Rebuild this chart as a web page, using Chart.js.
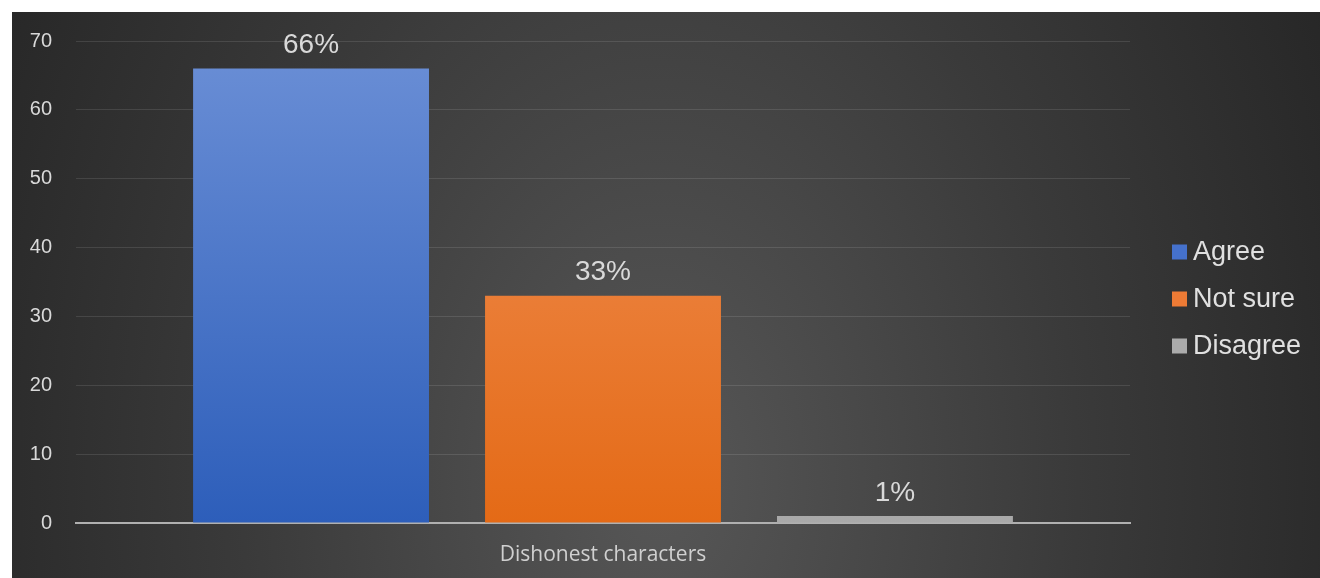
<!DOCTYPE html>
<html>
<head>
  <title>Dishonest characters</title>
  <script src="https://cdn.jsdelivr.net/npm/chart.js"></script>
  <style>
    body { margin: 0; background: #fff; }
    #wrap {
      position: absolute; left: 12px; top: 12px; width: 1308px; height: 566px;
      background: radial-gradient(760px 1100px at 648px 468px, #575757 0%, #3a3a3a 55%, #262626 100%);
    }
  </style>
</head>
<body>
  <div id="wrap"><canvas id="barChart"></canvas></div>

  <script>
    const categories = ['Dishonest characters'];
    const seriesNames = ['Agree', 'Not sure', 'Disagree'];
    const seriesValues = [[66], [33], [1]];
    const valueLabels = ['66%', '33%', '1%'];
    const yTicks = [0, 10, 20, 30, 40, 50, 60, 70];

    const topColors = ['#6b8fd6', '#f1925a', '#b4b4b4'];
    const bottomColors = ['#2d5eba', '#e46a16', '#a9a9a9'];
    const legendColors = ['#4571cc', '#ee7b35', '#ababab'];

    const arial = '"Liberation Sans", Arial, sans-serif';

    function barFill(i) {
      return function (ctx) {
        const area = ctx.chart.chartArea;
        if (!area) return topColors[i];
        const g = ctx.chart.ctx.createLinearGradient(0, area.top, 0, area.bottom);
        g.addColorStop(0, topColors[i]);
        g.addColorStop(1, bottomColors[i]);
        return g;
      };
    }

    // bar value labels on top
    const valueLabelPlugin = {
      id: 'valueLabels',
      afterDatasetsDraw(chart) {
        const c = chart.ctx;
        c.save();
        c.font = '28px ' + arial;
        c.fillStyle = '#d9d9d9';
        c.textAlign = 'center';
        c.textBaseline = 'middle';
        chart.data.datasets.forEach((ds, i) => {
          chart.getDatasetMeta(i).data.forEach(bar => {
            c.fillText(valueLabels[i], bar.x, bar.y - 23);
          });
        });
        c.restore();
      }
    };

    // legend on the right, drawn by hand so the box/text gap matches
    const sideLegend = {
      id: 'sideLegend',
      afterDraw(chart) {
        const a = chart.chartArea;
        const c = chart.ctx;
        const x = a.right + 42;
        const y0 = (a.top + a.bottom) / 2 - 30;
        c.save();
        c.font = '27px ' + arial;
        c.textBaseline = 'middle';
        c.textAlign = 'left';
        seriesNames.forEach((name, i) => {
          const y = y0 + i * 47;
          c.fillStyle = legendColors[i];
          c.fillRect(x, y - 7.5, 15, 15);
          c.fillStyle = '#e0e0e0';
          c.fillText(name, x + 21, y + 1);
        });
        c.restore();
      }
    };

    new Chart(document.getElementById('barChart'), {
      type: 'bar',
      data: {
        labels: categories,
        datasets: seriesNames.map((name, i) => ({
          label: name,
          data: seriesValues[i],
          backgroundColor: barFill(i),
          categoryPercentage: 0.831,
          barPercentage: 0.808
        }))
      },
      options: {
        responsive: true,
        maintainAspectRatio: false,
        animation: false,
        layout: { padding: { top: 29, left: 0, right: 190, bottom: 0 } },
        scales: {
          x: {
            z: 1,
            grid: { display: false, drawTicks: false },
            border: { display: true, color: '#b0b0b0', width: 2 },
            ticks: {
              color: '#d0d0d0',
              padding: 19,
              font: { family: '"Open Sans", "Noto Sans", sans-serif', size: 21 }
            },
            afterFit(s) { s.height = 55; s.paddingLeft = 0; s.paddingRight = 0; }
          },
          y: {
            min: 0,
            max: 70,
            afterBuildTicks(s) { s.ticks = yTicks.map(v => ({ value: v })); },
            grid: { color: 'rgba(255,255,255,0.11)', drawTicks: false },
            border: { display: false },
            ticks: {
              color: '#d9d9d9',
              padding: 24,
              font: { family: arial, size: 20 }
            },
            afterFit(s) { s.width = 64; s.paddingTop = 0; s.paddingBottom = 0; }
          }
        },
        plugins: {
          legend: { display: false },
          tooltip: { enabled: false }
        }
      },
      plugins: [valueLabelPlugin, sideLegend]
    });
  </script>
</body>
</html>
